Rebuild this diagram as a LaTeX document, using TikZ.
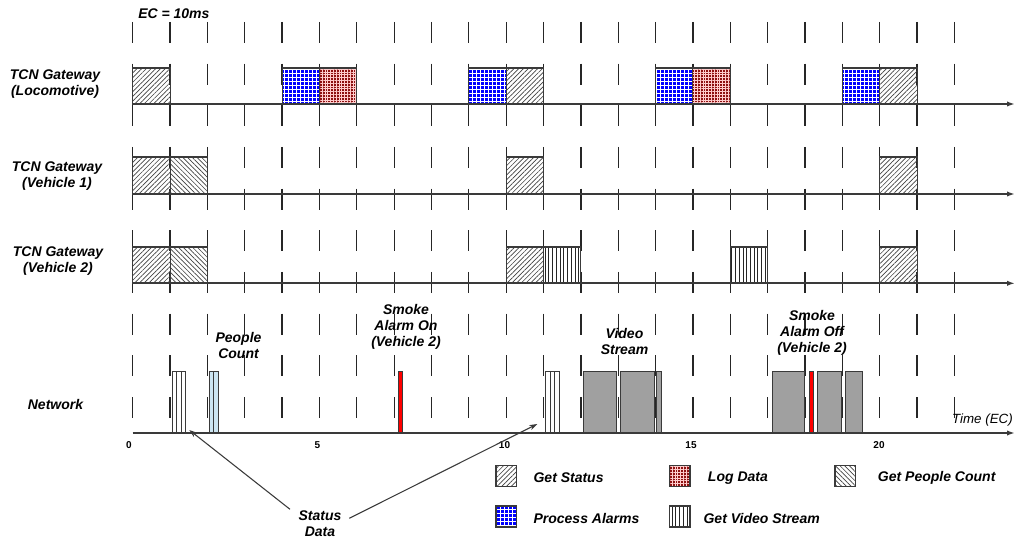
\documentclass[tikz,border=0pt]{standalone}
\usepackage{fontspec}
\setmainfont{Liberation Sans}
\usetikzlibrary{patterns.meta,arrows.meta}
\definecolor{ink}{HTML}{3A3A3A}
\definecolor{barg}{HTML}{A0A0A0}
\definecolor{pcblue}{HTML}{CCE5F2}
\definecolor{logred}{HTML}{8E1010}
\begin{document}
\begin{tikzpicture}[x=0.75pt,y=-0.75pt,
  lab/.style={font=\fontsize{10.5}{12}\selectfont\bfseries\itshape, align=center, inner sep=0pt},
  tick/.style={font=\fontsize{7.5}{9}\selectfont\bfseries, inner sep=0pt},
  gridl/.style={line width=0.95pt, black!85, dash pattern=on 15.75pt off 15.5pt},
  axis/.style={line width=1.2pt, ink, -{Latex[length=6pt,width=4pt]}},
  bx/.style={draw=ink, line width=0.8pt},
  gstat/.style={bx, pattern={Lines[angle=45,distance=2.5pt,line width=0.5pt]}, pattern color=black!75},
  gpeople/.style={bx, pattern={Lines[angle=-45,distance=2.5pt,line width=0.5pt]}, pattern color=black!75},
  gvideo/.style={bx, pattern={Lines[angle=90,distance=2.8pt,line width=0.65pt]}, pattern color=black!85},
  palarm/.style={bx, preaction={fill=blue}, pattern={Hatch[angle=0,distance=3pt,line width=0.55pt]}, pattern color=white},
  logd/.style={bx, preaction={fill=logred}, pattern={Hatch[angle=0,distance=2.1pt,line width=0.35pt]}, pattern color=white!80!red},
  nbar/.style={draw=ink, line width=0.6pt},
  callout/.style={line width=0.8pt, ink, -{Stealth[length=6pt,width=4pt]}}
]
\useasboundingbox (0,0) rectangle (1024,545);

% ---------- time grid and timeline boxes (x in EC units) ----------
\begin{scope}[shift={(132.7,0)}, x=28.0125pt]
  \foreach \t in {0,...,22} \draw[gridl] (\t,22) -- (\t,418.5);

  % Locomotive
  \draw[gstat]  (0,68) rectangle (1,104);
  \draw[palarm] (4,68) rectangle (5,104);
  \draw[logd]   (5,68) rectangle (6,104);
  \draw[palarm] (9,68) rectangle (10,104);
  \draw[gstat]  (10,68) rectangle (11,104);
  \draw[palarm] (14,68) rectangle (15,104);
  \draw[logd]   (15,68) rectangle (16,104);
  \draw[palarm] (19,68) rectangle (20,104);
  \draw[gstat]  (20,68) rectangle (21,104);

  % Vehicle 1
  \draw[gstat]   (0,157) rectangle (1,194);
  \draw[gpeople] (1,157) rectangle (2,194);
  \draw[gstat]   (10,157) rectangle (11,194);
  \draw[gstat]   (20,157) rectangle (21,194);

  % Vehicle 2
  \draw[gstat]   (0,247) rectangle (1,283);
  \draw[gpeople] (1,247) rectangle (2,283);
  \draw[gstat]   (10,247) rectangle (11,283);
  \draw[gvideo]  (11,247) rectangle (12,283);
  \draw[gvideo]  (16,247) rectangle (17,283);
  \draw[gstat]   (20,247) rectangle (21,283);
\end{scope}

% ---------- network bars (px) ----------
\foreach \a/\b in {172.3/176.7,176.7/181,181/185.7,545.7/550.2,550.2/554.7,554.7/559.3}
  \draw[nbar, fill=white] (\a,371) rectangle (\b,433);
\foreach \a/\b in {209.3/213.8,213.8/218.3}
  \draw[nbar, fill=pcblue] (\a,371) rectangle (\b,433);
\foreach \a/\b in {583.3/616.7,620/654,656.7/661.7,772.3/804.3,817/841.7,845.7/862.3}
  \draw[nbar, fill=barg] (\a,371) rectangle (\b,433);
\foreach \a/\b in {398.3/402.7,809/813.3}
  \draw[nbar, fill=red] (\a,371) rectangle (\b,433);

% ---------- axes ----------
\draw[axis] (132.7,104) -- (1015,104);
\draw[axis] (132.7,194) -- (1015,194);
\draw[axis] (132.7,283.3) -- (1015,283.3);
\draw[axis] (132.7,433) -- (1015,433);

% ---------- labels ----------
\node[lab, anchor=west] (ec) at (138,14) {EC = 10ms};
\node[lab] (loco) at (55,84.2) {TCN Gateway\\(Locomotive)};
\node[lab] (veh1) at (57,175.7) {TCN Gateway\\(Vehicle 1)};
\node[lab] (veh2) at (58,261.3) {TCN Gateway\\(Vehicle 2)};
\node[lab] (net) at (55.5,404) {Network};

\node[lab] (pc) at (238.5,345.8) {People\\Count};
\node[lab] (smon) at (406,326.9) {Smoke\\Alarm On\\(Vehicle 2)};
\node[lab] (vid) at (624.5,341.7) {Video\\Stream};
\node[lab] (smoff) at (812,333.3) {Smoke\\Alarm Off\\(Vehicle 2)};
\node[lab] (sd) at (320,523.7) {Status\\Data};

\node[tick] (t0) at (129,445) {0};
\node[tick] (t5) at (317.3,445) {5};
\node[tick] (t10) at (504.5,445) {10};
\node[tick] (t15) at (691,445) {15};
\node[tick] (t20) at (879,445) {20};
\node[font=\fontsize{10}{12}\selectfont\itshape, inner sep=0pt, anchor=east] (time) at (1013,420) {Time (EC)};

% ---------- callouts ----------
\coordinate (s1) at (290,509.3);
\coordinate (s2) at (349.3,518.3);
\coordinate (tip1) at (189.3,430);
\coordinate (tip2) at (537.3,424);
\draw[callout] (s1) -- (tip1);
\draw[callout] (s2) -- (tip2);

% ---------- legend ----------
\draw[gstat]   (496,465.5) rectangle (516.7,486.5);
\node[lab, anchor=west] (lgs) at (533.3,477.7) {Get Status};
\draw[logd]    (669.3,465.5) rectangle (690,486.5);
\node[lab, anchor=west] (lld) at (707.7,477.7) {Log Data};
\draw[gpeople] (835,465.5) rectangle (855.7,486.5);
\node[lab, anchor=west] (lgp) at (877.7,477.7) {Get People Count};
\draw[palarm]  (496,506) rectangle (516.7,527);
\node[lab, anchor=west] (lpa) at (533.3,518.3) {Process Alarms};
\draw[gvideo]  (669.3,506) rectangle (690,527);
\node[lab, anchor=west] (lgv) at (703.3,518.3) {Get Video Stream};
\end{tikzpicture}
\end{document}
